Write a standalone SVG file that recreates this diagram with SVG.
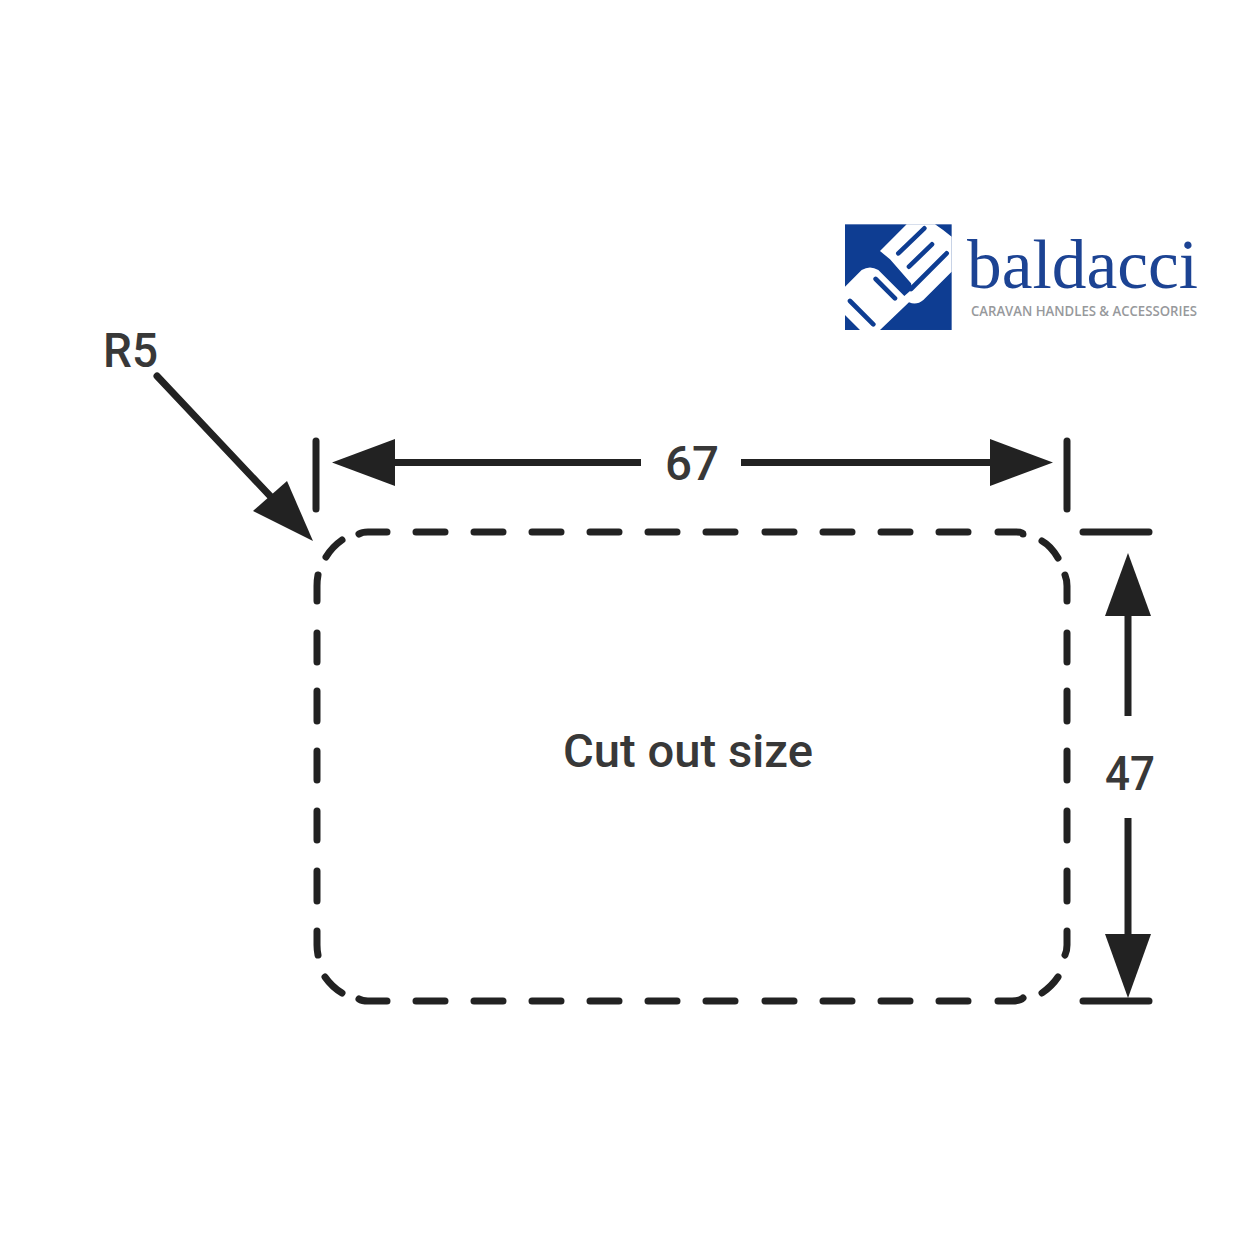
<svg xmlns="http://www.w3.org/2000/svg" width="1260" height="1260" viewBox="0 0 1260 1260">
<style>
.d{fill:none;stroke:#222;stroke-width:7;stroke-linecap:round;stroke-linejoin:round}
.l{fill:none;stroke:#222;stroke-width:7;stroke-linecap:butt}
.h{fill:#222}
.t{font-family:Roboto,"Liberation Sans",sans-serif;font-weight:500;fill:#383838}
.s{fill:none;stroke:#0e3d92;stroke-width:14;stroke-linecap:round}
</style>
<rect width="1260" height="1260" fill="#fff"/>
<g id="cutout" class="d">
<path d="M359,534Q362,532 368,532H387M416,532H445M474,532H503M532,532H561M590,532H619M648,532H677M706,532H735M765,532H794M823,532H852M881,532H910M939,532H968M998,532H1016Q1023,532 1023,534"/>
<path d="M1042,541Q1051,546 1058,558M1065,575Q1067,580 1067,586V601M1067,633V662M1067,691V721M1067,751V780M1067,811V840M1067,871V901M1067,931V945Q1067,951 1065,955M1058,977Q1052,986 1042,993M1023,998Q1020,1001 1012,1001H998M968,1001H939M910,1001H881M852,1001H823M794,1001H765M735,1001H706M677,1001H648M619,1001H590M561,1001H532M503,1001H474M445,1001H416M387,1001H368Q362,1001 359,999"/>
<path d="M342,993Q332,987 325,977M318,955Q317,950 317,945V931M317,901V871M317,840V811M317,780V751M317,721V691M317,662V633M317,601V586Q317,580 318,575M326,557Q332,547 342,540"/>
</g>
<g id="connectors">
<path class="d" d="M316,441V509M1067,441V509M1083,532H1149M1083,1001H1149"/>
<path class="l" d="M395,462.5H641M741,462.5H990M1128,616V716M1128,818V935"/>
<path class="d" d="M157,376L272,498"/>
<polygon class="h" points="332,462.5 395,439 395,486"/>
<polygon class="h" points="1053,462.5 990,439 990,486"/>
<polygon class="h" points="1128,553 1105,616 1151,616"/>
<polygon class="h" points="1128,998 1105,934 1151,934"/>
<polygon class="h" points="313,541 287,481 253,511"/>
</g>
<g id="labels" class="t">
<text x="103" y="367" font-size="48" textLength="55" lengthAdjust="spacingAndGlyphs">R5</text>
<text x="665" y="480" font-size="48" textLength="54" lengthAdjust="spacingAndGlyphs">67</text>
<text x="1105" y="790" font-size="48" textLength="50" lengthAdjust="spacingAndGlyphs">47</text>
<text x="563" y="767" font-size="47" textLength="250" lengthAdjust="spacingAndGlyphs">Cut out size</text>
</g>
<g id="logo">
<g transform="translate(835,215) scale(.3333)">
<rect x="30" y="28" width="320" height="317" fill="#0e3d92"/>
<path fill="#fff" d="M135,108L215,28H300Q325,45 350,65V170L265,255Q245,272 222,262L135,345H75L30,300V215L80,165Q105,150 130,165L208,243L232,222L228,205L165,133Z"/>
<path class="s" d="M190,115L268,40M222,155L291,88M228,222L335,115M45,258L115,328M122,192L180,250"/>
</g>
<text x="967" y="288" font-family="Liberation Serif,serif" font-size="69" fill="#1c4393" textLength="231" lengthAdjust="spacingAndGlyphs">baldacci</text>
<text x="971" y="316" font-family="Open Sans,sans-serif" font-size="14" font-weight="600" fill="#97999c" textLength="226" lengthAdjust="spacingAndGlyphs">CARAVAN HANDLES &amp; ACCESSORIES</text>
</g>
</svg>
